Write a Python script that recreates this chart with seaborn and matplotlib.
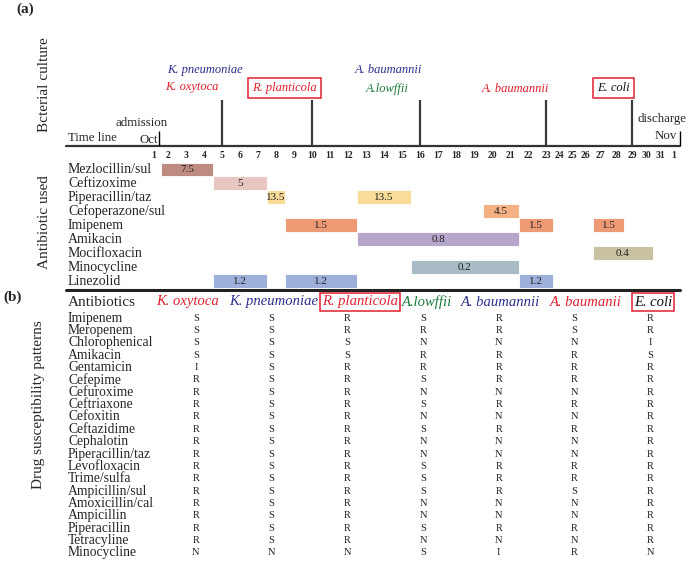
import numpy as np
import pandas as pd
import matplotlib.pyplot as plt
import seaborn as sns
from matplotlib.colors import ListedColormap
from matplotlib.lines import Line2D
import matplotlib.transforms as mtransforms

# ---- data ----
days = list(range(1, 33))
day_labels = [str(d) for d in range(1, 32)] + ['1']

culture_days = [5, 10, 16, 23, 29]
culture_species = ['K. pneumoniae', 'K. oxytoca', 'R. planticola', 'A. baumannii',
                   'A.lowffii', 'A. baumannii', 'E. coli']
culture_colors = ['#2b2f8c', '#e0202e', '#e0202e', '#2b2f8c', '#1d7a3c', '#e0202e', '#111111']
culture_boxed = [False, False, True, False, False, False, True]

antibiotics = ['Mezlocillin/sul', 'Ceftizoxime', 'Piperacillin/taz', 'Cefoperazone/sul',
               'Imipenem', 'Amikacin', 'Mocifloxacin', 'Minocycline', 'Linezolid']
antibiotic_colors = ['#bd8b80', '#e8c6c2', '#f8dc97', '#f4b183', '#ee9a75',
                     '#b7a6cc', '#c9c2a2', '#a9bcc6', '#9db0dc']

course_drug = ['Mezlocillin/sul', 'Ceftizoxime', 'Piperacillin/taz', 'Piperacillin/taz',
               'Cefoperazone/sul', 'Imipenem', 'Imipenem', 'Imipenem', 'Amikacin',
               'Mocifloxacin', 'Minocycline', 'Linezolid', 'Linezolid', 'Linezolid']
course_start = [2, 5, 8, 13, 20, 9, 22, 27, 13, 27, 16, 5, 9, 22]
course_end = [4, 7, 8, 15, 21, 12, 23, 28, 21, 30, 21, 7, 12, 23]
course_dose = ['7.5', '5', '13.5', '13.5', '4.5', '1.5', '1.5', '1.5', '0.8', '0.4',
               '0.2', '1.2', '1.2', '1.2']

strains = ['K. oxytoca', 'K. pneumoniae', 'R. planticola', 'A.lowffii',
           'A. baumannii', 'A. baumanii', 'E. coli']
strain_colors = ['#e0202e', '#2b2f8c', '#e0202e', '#1d7a3c', '#2b2f8c', '#e0202e', '#111111']
strain_boxed = [False, False, True, False, False, False, True]

tested = ['Imipenem', 'Meropenem', 'Chlorophenical', 'Amikacin', 'Gentamicin', 'Cefepime',
          'Cefuroxime', 'Ceftriaxone', 'Cefoxitin', 'Ceftazidime', 'Cephalotin',
          'Piperacillin/taz', 'Levofloxacin', 'Trime/sulfa', 'Ampicillin/sul',
          'Amoxicillin/cal', 'Ampicillin', 'Piperacillin', 'Tetracyline', 'Minocycline']
patterns = ['SSRSRSR', 'SSRRRSR', 'SSSNNNI', 'SSSRRRS', 'ISRRRRR', 'RSRSRRR', 'RSRNNNR',
            'RSRSRRR', 'RSRNNNR', 'RSRSRRR', 'RSRNNNR', 'RSRNNNR', 'RSRSRRR', 'RSRSRRR',
            'RSRSRSR', 'RSRNNNR', 'RSRNNNR', 'RSRSRRR', 'RSRNNNR', 'NNNSIRN']

susceptibility = pd.DataFrame([list(p) for p in patterns], index=tested, columns=strains)

# ---- style ----
sns.set_theme(style='white')
plt.rcParams['font.family'] = ['Liberation Serif', 'DejaVu Serif']

W, H = 688, 562
fig = plt.figure(figsize=(W / 100, H / 100), dpi=100)

def rect(x0, y0, x1, y1):
    return [x0 / W, 1 - y1 / H, (x1 - x0) / W, (y1 - y0) / H]

def ptext(x, y, s, **kw):
    kw.setdefault('va', 'center')
    return fig.text(x / W, 1 - y / H, s, **kw)

# the day labels in the original are not evenly spaced, so use a piecewise scale
knot_days = [-20, 1, 2, 23, 26, 29, 32, 60]
knot_px = [-140, 154, 168, 546, 585, 632, 674, 1066]
fwd = lambda d: np.interp(d, knot_days, knot_px)
inv = lambda p: np.interp(p, knot_px, knot_days)

def day_axis(ax):
    ax.set_xscale('function', functions=(fwd, inv))
    ax.set_xlim(inv(0), inv(W))
    for s in ax.spines.values():
        s.set_visible(False)

# ---- (a) timeline ----
ax_t = fig.add_axes(rect(0, 50, W, 146))
day_axis(ax_t)
ax_t.set_ylim(146, 50)
ax_t.set_yticks([])
ax_t.set_xticks(days)
ax_t.set_xticklabels(day_labels, fontweight='bold', fontsize=7)
ax_t.tick_params(axis='x', length=0, pad=3.5)
ax_t.axhline(146, xmin=66 / W, xmax=680 / W, color='#333333', lw=1.6, clip_on=False)
ax_t.vlines(culture_days, 146, 100, color='#3a3a3a', lw=1.6)
ax_t.vlines([1.36, 32.43], 146, 131, color='black', lw=1.0)

ptext(16, 9, '(a)', fontweight='bold', fontsize=11)
ptext(45, 85, 'Bcterial culture', rotation=90, ha='center', fontsize=11)
ptext(45, 222, 'Antibiotic used', rotation=90, ha='center', fontsize=11)
ptext(68, 138, 'Time line', fontsize=9.3)
ptext(139, 140, 'Oct', fontsize=9.3)
ptext(115, 123, 'admission', fontsize=9.3)
ptext(638, 119, 'discharge', fontsize=9.3)
ptext(655, 136, 'Nov', fontsize=9.3)

label_xy = [(167, 70), (165, 87), (252, 88), (355, 70), (366, 89), (482, 89), (597, 88)]
for (x, y), name, c, boxed in zip(label_xy, culture_species, culture_colors, culture_boxed):
    bb = dict(boxstyle='square,pad=0.35', fc='none', ec='#e0202e', lw=1.1) if boxed else None
    ptext(x, y, name, color=c, style='italic', fontsize=9, bbox=bb)

# ---- (a) antibiotic courses ----
ax_b = fig.add_axes(rect(0, 162.5, W, 288))
day_axis(ax_b)
ax_b.set_ylim(len(antibiotics) - 0.5, -0.5)
ax_b.set_xticks([])
ax_b.set_yticks([])
row_of = {a: i for i, a in enumerate(antibiotics)}
for drug, s, e, dose in zip(course_drug, course_start, course_end, course_dose):
    i = row_of[drug]
    left, right = s - 0.5, e + 0.5
    ax_b.barh(i, right - left, left=left, height=1.0, color=antibiotic_colors[i],
              edgecolor='white', linewidth=0.6)
    mid = inv((fwd(left) + fwd(right)) / 2)
    ax_b.text(mid, i, dose, ha='center', va='center', fontsize=8, color='#222222')

row_tr = mtransforms.blended_transform_factory(fig.transFigure, ax_b.transData)
for i, name in enumerate(antibiotics):
    ax_b.text(68 / W, i, name, transform=row_tr, ha='left', va='center', fontsize=10)

fig.add_artist(Line2D([66 / W, 680 / W], [1 - 290 / H] * 2, color='#222222', lw=2.2))

# ---- (b) susceptibility table ----
ptext(3, 297, '(b)', fontweight='bold', fontsize=11)
ptext(39, 405, 'Drug susceptibility patterns', rotation=90, ha='center', fontsize=11)
ptext(68, 302, 'Antibiotics', fontsize=11)

ax_h = fig.add_axes(rect(158, 312, W, 559))
sns.heatmap(np.zeros(susceptibility.shape), annot=susceptibility.values, fmt='',
            cmap=ListedColormap(['white']), cbar=False, ax=ax_h,
            xticklabels=False, yticklabels=tested,
            annot_kws=dict(fontsize=7.5, color='#222222'))
ax_h.tick_params(axis='y', length=0, pad=64.8, labelsize=9.8)
for lbl in ax_h.get_yticklabels():
    lbl.set_ha('left')
    lbl.set_rotation(0)

# column headers sit slightly off the cell centres in the original
header_x = [188, 274, 360, 427, 500, 586, 653]
for x, name, c, boxed in zip(header_x, strains, strain_colors, strain_boxed):
    bb = dict(boxstyle='square,pad=0.15', fc='none', ec='#e0202e', lw=1.1) if boxed else None
    ptext(x, 302, name, ha='center', color=c, style='italic', fontsize=10.5, bbox=bb)

fig.savefig('out.png', dpi=100)
